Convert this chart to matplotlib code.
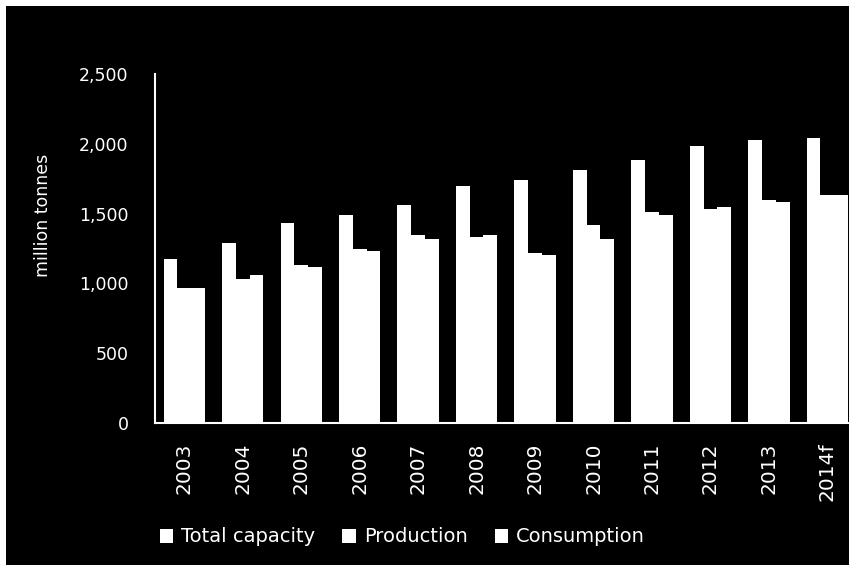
import numpy as np
import matplotlib
matplotlib.use("Agg")
import matplotlib.pyplot as plt
from matplotlib.patches import Rectangle

# data (million tonnes)
years = ["2003", "2004", "2005", "2006", "2007", "2008", "2009", "2010",
         "2011", "2012", "2013", "2014f"]
capacity = [1175, 1290, 1430, 1490, 1560, 1700, 1740, 1815, 1885, 1985, 2030, 2040]
production = [965, 1035, 1135, 1245, 1345, 1335, 1220, 1420, 1515, 1530, 1600, 1630]
consumption = [965, 1060, 1120, 1230, 1320, 1345, 1205, 1320, 1490, 1545, 1585, 1630]
yticks = [0, 500, 1000, 1500, 2000, 2500]
series_names = ["Total capacity", "Production", "Consumption"]

fig = plt.figure(figsize=(8.49, 5.65), dpi=100)
fig.patch.set_facecolor("white")
# black panel (the scan has a thin white strip at top and left)
fig.add_artist(Rectangle((6/849, -0.05), 1.1, 1.05 - 6/565, transform=fig.transFigure,
                         facecolor="black", edgecolor="none", zorder=0))

ax = fig.add_axes([155/849, 1 - 423/565, 1 - 155/849, (423 - 74)/565])
ax.set_facecolor("black")

x = np.arange(len(years))
w = 0.235
b1 = ax.bar(x - w, capacity, w, color="white", edgecolor="none")
b2 = ax.bar(x, production, w, color="white", edgecolor="none")
b3 = ax.bar(x + w, consumption, w, color="white", edgecolor="none")

ax.set_xlim(-0.5, 11.37)
ax.set_ylim(0, 2500)
ax.set_yticks(yticks)
ax.set_yticklabels([f"{v:,}" for v in yticks], color="white", fontsize=12.5)
ax.set_xticks(x)
ax.set_xticklabels(years, rotation=90, color="white", fontsize=14.5)
ax.tick_params(axis="y", length=0, pad=19)
ax.tick_params(axis="x", length=0, pad=14)

for s in ["top", "right"]:
    ax.spines[s].set_visible(False)
for s in ["left", "bottom"]:
    ax.spines[s].set_color("white")
    ax.spines[s].set_linewidth(1.5)

fig.text(43/849, 1 - 215/565, "million tonnes", rotation=90, color="white",
         fontsize=12.5, ha="center", va="center")

leg = fig.legend([b1, b2, b3], series_names, loc="center left",
                 bbox_to_anchor=(150/849, 1 - 537/565), ncol=3, frameon=False,
                 fontsize=14, handlelength=0.7, handleheight=0.7,
                 handletextpad=0.4, columnspacing=1.4, borderpad=0)
for t in leg.get_texts():
    t.set_color("white")

fig.savefig("out.png", dpi=100, facecolor=fig.get_facecolor())
